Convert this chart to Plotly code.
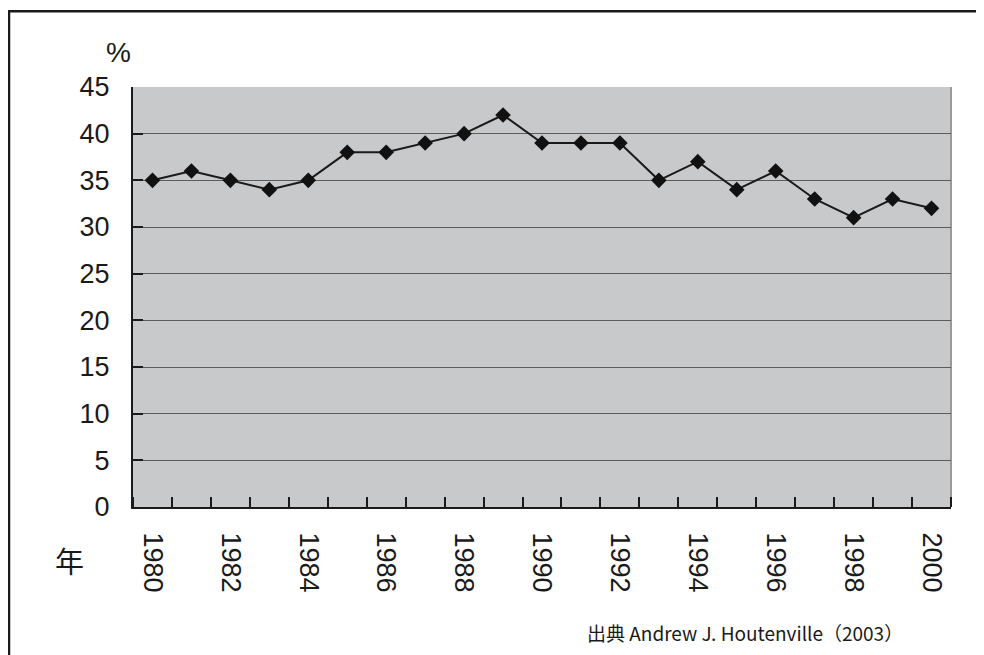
import plotly.graph_objects as go

years = list(range(1980, 2001))
values = [35, 36, 35, 34, 35, 38, 38, 39, 40, 42, 39, 39, 39, 35, 37, 34, 36, 33, 31, 33, 32]
y_ticks = [0, 5, 10, 15, 20, 25, 30, 35, 40, 45]
x_label_years = list(range(1980, 2001, 2))

FONT = "Liberation Sans, Arial, Noto Sans CJK JP, sans-serif"
CJK = "Noto Sans CJK JP, sans-serif"

# page body has an 8px margin; figure coordinates are screen coordinates minus OFF
OFF = 8
W, H = 984 - OFF, 655 - OFF
L, R, T, B = 125, 33, 79, 148
pw, ph = W - L - R, H - T - B


def px_x(p):
    return (p - L) / pw


def px_y(p):
    return (H - B - p) / ph


fig = go.Figure()
fig.add_trace(go.Scatter(
    x=years, y=values, mode="lines+markers",
    line=dict(color="#1a1a1a", width=2),
    marker=dict(symbol="diamond", size=12, color="#111111"),
    showlegend=False, hoverinfo="x+y",
))

fig.update_layout(
    width=W, height=H,
    margin=dict(l=L, r=R, t=T, b=B),
    paper_bgcolor="white",
    plot_bgcolor="#c8c9cb",
    font=dict(family=FONT, color="#1a1a1a"),
    xaxis=dict(
        range=[1979.5, 2000.5],
        tickmode="array", tickvals=x_label_years, ticktext=[str(v) for v in x_label_years],
        tickangle=90, ticks="", showgrid=False, zeroline=False,
        showline=True, linecolor="#1a1a1a", linewidth=2,
        tickfont=dict(size=27, family=FONT),
        ticklabelstandoff=18,
        minor=dict(tickmode="linear", tick0=1979.5, dtick=1, ticks="inside",
                   ticklen=10, tickwidth=2, tickcolor="#1a1a1a", showgrid=False),
        fixedrange=True,
    ),
    yaxis=dict(
        range=[0, 45], tickmode="array", tickvals=y_ticks,
        ticks="inside", ticklen=10, tickwidth=2, tickcolor="#1a1a1a",
        showgrid=True, gridcolor="#5c5c5c", gridwidth=1,
        zeroline=False, showline=True, linecolor="#1a1a1a", linewidth=2,
        tickfont=dict(size=27, family=FONT),
        ticklabelstandoff=16,
        fixedrange=True,
    ),
)

# light right edge of plot area
fig.add_shape(type="line", xref="paper", yref="paper", x0=1, x1=1, y0=0, y1=1,
              line=dict(color="#9a9a9a", width=2), layer="below")

fig.add_annotation(text="%", xref="paper", yref="paper", x=px_x(110.5), y=px_y(44),
                   xanchor="center", yanchor="middle",
                   showarrow=False, font=dict(size=28, family=FONT, color="#1a1a1a"))
fig.add_annotation(text="年", xref="paper", yref="paper", x=px_x(61), y=px_y(551.5),
                   xanchor="center", yanchor="middle",
                   showarrow=False, font=dict(size=29, family=CJK, color="#1a1a1a"))
fig.add_annotation(text="出典 Andrew J. Houtenville（2003）", xref="paper", yref="paper",
                   x=px_x(897), y=px_y(624), xanchor="right", yanchor="middle",
                   showarrow=False, font=dict(size=19, family=CJK, color="#1a1a1a"))

# outer frame
fig.add_shape(type="rect", xref="paper", yref="paper",
              x0=px_x(1), x1=px_x(1000), y0=px_y(700), y1=px_y(3.3),
              line=dict(color="#1a1a1a", width=2.5), fillcolor="rgba(0,0,0,0)", layer="above")

fig.write_html("out.html")
